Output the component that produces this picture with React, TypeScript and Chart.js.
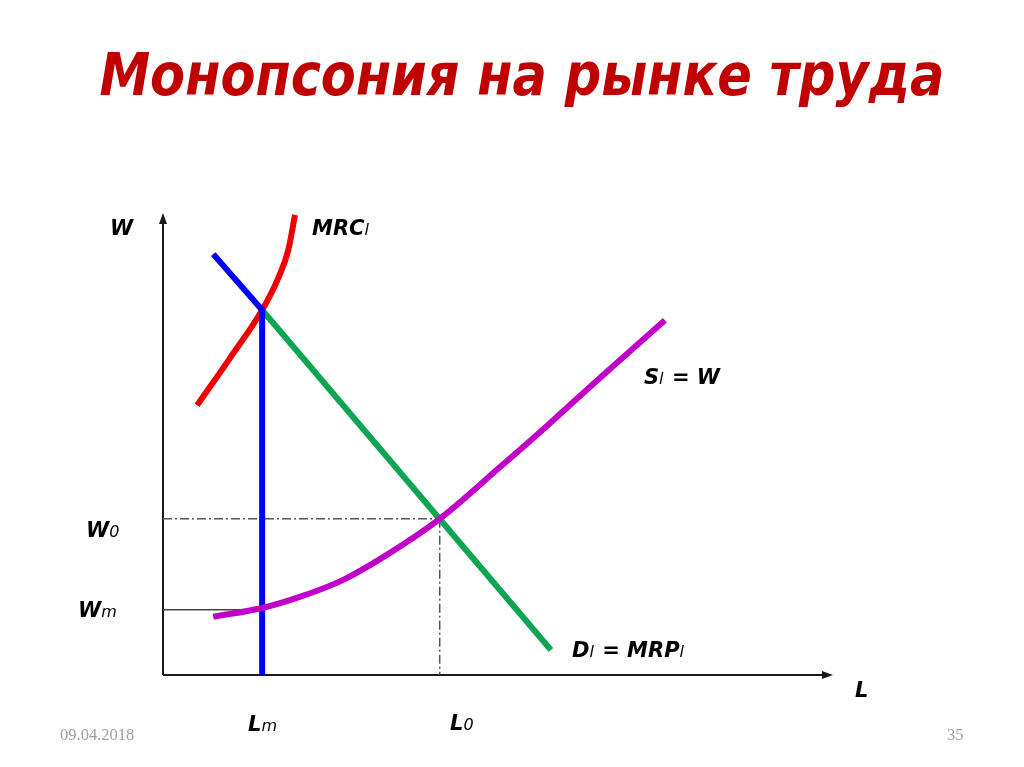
import React, { useEffect, useLayoutEffect, useRef } from "react";
import { Chart, registerables } from "chart.js";

Chart.register(...registerables);

// Diagram values (L on x, W on y, arbitrary units 0..100)
const L_M = 14.8;
const L_0 = 41.3;
const W_0 = 33.8;
const W_M = 14.1;

const demandAboveLm = [
  { x: 7.5, y: 91.1 },
  { x: L_M, y: 79.0 },
];
const demandBelowLm = [
  { x: L_M, y: 79.0 },
  { x: 57.9, y: 5.4 },
];
const lmVertical = [
  { x: L_M, y: 79.0 },
  { x: L_M, y: 0 },
];
const mrcCurve = [
  { x: 5.1, y: 58.4 },
  { x: 10.0, y: 68.6 },
  { x: 14.8, y: 79.0 },
  { x: 17.2, y: 85.9 },
  { x: 18.7, y: 92.0 },
  { x: 19.7, y: 99.6 },
];
const supplyCurve = [
  { x: 7.5, y: 12.6 },
  { x: 14.8, y: 14.5 },
  { x: 20.4, y: 16.9 },
  { x: 26.9, y: 20.6 },
  { x: 33.4, y: 26.0 },
  { x: 41.3, y: 33.8 },
  { x: 50.3, y: 45.0 },
  { x: 57.3, y: 53.9 },
  { x: 65.2, y: 64.3 },
  { x: 74.9, y: 76.8 },
];
const w0Guide = [
  { x: 0, y: W_0 },
  { x: L_0, y: W_0 },
];
const l0Guide = [
  { x: L_0, y: W_0 },
  { x: L_0, y: -1 },
];
const wmGuide = [
  { x: 0, y: W_M },
  { x: L_M, y: W_M },
];

const TITLE = "Монопсония на рынке труда";
const DATE_TEXT = "09.04.2018";
const PAGE_TEXT = "35";

type Part = { t: string; sub?: boolean };
type Label = { parts: Part[]; x: number; y: number };

const LABELS: Label[] = [
  { parts: [{ t: "W" }], x: 110, y: 235 },
  { parts: [{ t: "MRC" }, { t: "l", sub: true }], x: 312, y: 235 },
  { parts: [{ t: "S" }, { t: "l", sub: true }, { t: " = W" }], x: 644, y: 384 },
  { parts: [{ t: "W" }, { t: "0", sub: true }], x: 86, y: 537 },
  { parts: [{ t: "W" }, { t: "m", sub: true }], x: 78, y: 617 },
  { parts: [{ t: "D" }, { t: "l", sub: true }, { t: " = MRP" }, { t: "l", sub: true }], x: 572, y: 657 },
  { parts: [{ t: "L" }], x: 855, y: 697 },
  { parts: [{ t: "L" }, { t: "m", sub: true }], x: 248, y: 731 },
  { parts: [{ t: "L" }, { t: "0", sub: true }], x: 450, y: 730 },
];

const MAIN_FONT = "italic 700 21px 'DejaVu Sans', sans-serif";
const SUB_FONT = "italic 400 16px 'DejaVu Sans', sans-serif";

const axesPlugin = {
  id: "econAxes",
  beforeDatasetsDraw(chart: any) {
    const { ctx, scales } = chart;
    const x0 = scales.x.getPixelForValue(0);
    const y0 = scales.y.getPixelForValue(0);
    const xEnd = scales.x.getPixelForValue(100);
    const yEnd = scales.y.getPixelForValue(100);
    ctx.save();
    ctx.strokeStyle = "#1a1a1a";
    ctx.fillStyle = "#1a1a1a";
    ctx.lineWidth = 2;
    ctx.beginPath();
    ctx.moveTo(x0, y0);
    ctx.lineTo(x0, yEnd + 8);
    ctx.moveTo(x0, y0);
    ctx.lineTo(xEnd - 8, y0);
    ctx.stroke();
    ctx.beginPath();
    ctx.moveTo(x0, yEnd);
    ctx.lineTo(x0 - 4, yEnd + 11);
    ctx.lineTo(x0 + 4, yEnd + 11);
    ctx.closePath();
    ctx.fill();
    ctx.beginPath();
    ctx.moveTo(xEnd, y0);
    ctx.lineTo(xEnd - 11, y0 - 4);
    ctx.lineTo(xEnd - 11, y0 + 4);
    ctx.closePath();
    ctx.fill();
    ctx.restore();
  },
  afterDraw(chart: any) {
    const { ctx } = chart;
    ctx.save();
    ctx.fillStyle = "#000";
    ctx.textBaseline = "alphabetic";
    ctx.textAlign = "left";
    for (const lab of LABELS) {
      let cx = lab.x;
      for (const p of lab.parts) {
        ctx.font = p.sub ? SUB_FONT : MAIN_FONT;
        ctx.fillText(p.t, cx, lab.y);
        cx += ctx.measureText(p.t).width + (p.sub ? 1 : 0);
      }
    }
    ctx.restore();
  },
};

export default function App() {
  const canvasRef = useRef<HTMLCanvasElement | null>(null);
  const titleRef = useRef<HTMLSpanElement | null>(null);

  useLayoutEffect(() => {
    const el = titleRef.current;
    if (el) {
      el.style.transform = "none";
      const w = el.getBoundingClientRect().width;
      if (w > 0) el.style.transform = `scaleX(${845 / w})`;
    }
  }, []);

  useEffect(() => {
    if (!canvasRef.current) return;
    const line = (data: any[], color: string, width: number, order: number, extra: any = {}) => ({
      type: "line",
      data,
      borderColor: color,
      borderWidth: width,
      pointRadius: 0,
      pointHoverRadius: 0,
      fill: false,
      order,
      borderCapStyle: "butt",
      ...extra,
    });
    const chart = new Chart(canvasRef.current, {
      type: "line",
      data: {
        datasets: [
          line(supplyCurve, "#c000c8", 6, 1, { tension: 0.4, cubicInterpolationMode: "monotone" }),
          line(demandAboveLm, "#0000ff", 6, 2),
          line(lmVertical, "#0000ff", 6, 2),
          line(demandBelowLm, "#0da552", 6, 3),
          line(mrcCurve, "#f00000", 6, 4, { tension: 0.4, cubicInterpolationMode: "monotone" }),
          line(w0Guide, "#555555", 1.5, 5, { borderDash: [9, 3, 2, 3] }),
          line(l0Guide, "#555555", 1.5, 5, { borderDash: [9, 3, 2, 3] }),
          line(wmGuide, "#444444", 1.5, 6),
        ] as any,
      },
      options: {
        responsive: false,
        animation: false,
        events: [],
        layout: { padding: { left: 163, top: 213, right: 191, bottom: 92 } },
        plugins: { legend: { display: false }, tooltip: { enabled: false }, title: { display: false } },
        scales: {
          x: { type: "linear", min: 0, max: 100, display: false },
          y: { type: "linear", min: 0, max: 100, display: false },
        },
        elements: { line: { borderJoinStyle: "round" } },
      } as any,
      plugins: [axesPlugin],
    });
    return () => chart.destroy();
  }, []);

  return (
    <div style={{ position: "absolute", left: 0, top: 0, width: 1024, height: 767, background: "#fff", overflow: "hidden" }}>
      <canvas ref={canvasRef} width={1024} height={767} style={{ position: "absolute", left: 0, top: 0 }} />
      <div
        style={{
          position: "absolute",
          left: 0,
          top: 45,
          width: 1024,
          textAlign: "center",
          lineHeight: 1,
          whiteSpace: "nowrap",
        }}
      >
        <span
          ref={titleRef}
          style={{
            display: "inline-block",
            fontFamily: "'DejaVu Sans', sans-serif",
            fontWeight: 700,
            fontStyle: "italic",
            fontSize: 59,
            color: "#c00000",
            transformOrigin: "center",
            marginLeft: 20,
          }}
        >
          {TITLE}
        </span>
      </div>
      <div style={{ position: "absolute", left: 60, top: 725, fontFamily: "'Liberation Serif', serif", fontSize: 16.5, color: "#a0a0a0" }}>
        {DATE_TEXT}
      </div>
      <div style={{ position: "absolute", left: 947, top: 725, fontFamily: "'Liberation Serif', serif", fontSize: 16.5, color: "#a0a0a0" }}>
        {PAGE_TEXT}
      </div>
    </div>
  );
}
